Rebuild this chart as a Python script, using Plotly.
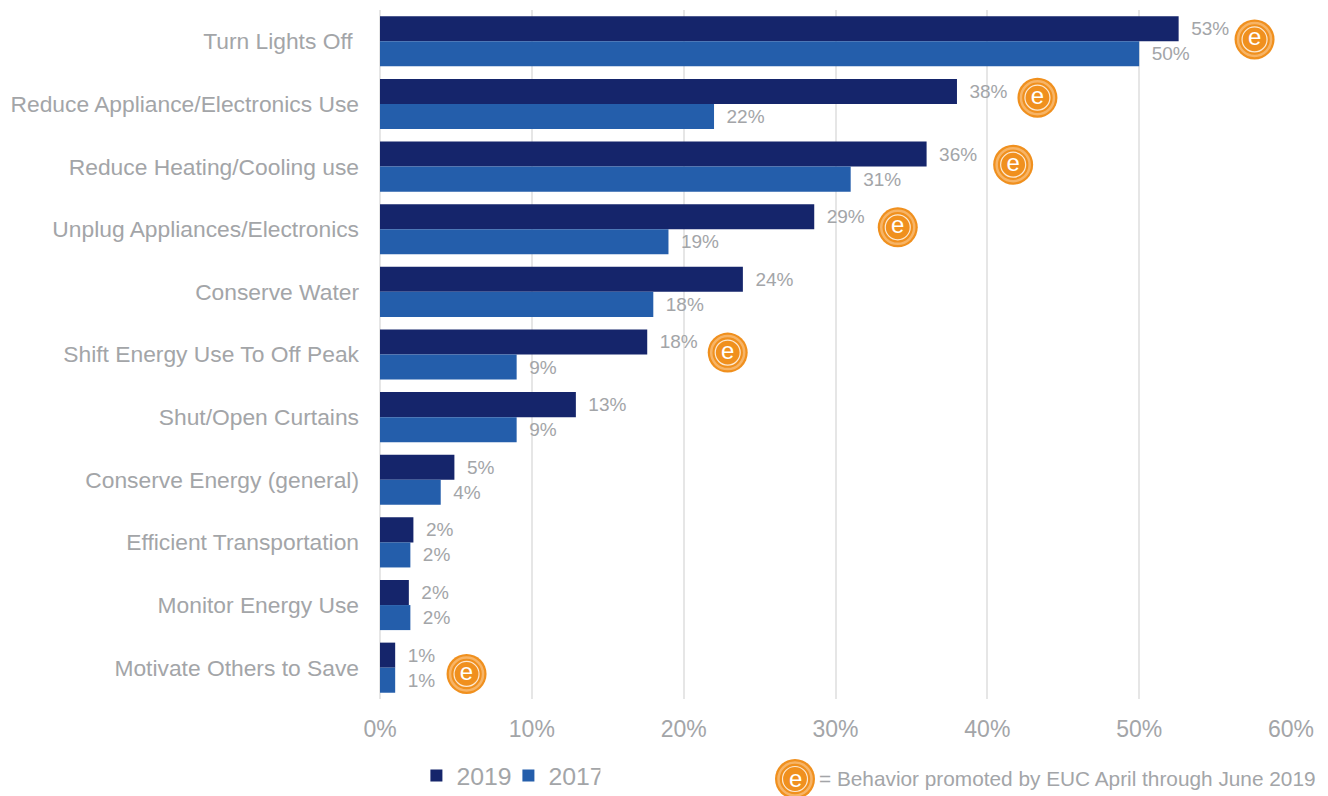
import plotly.graph_objects as go

categories = ["Turn Lights Off ", "Reduce Appliance/Electronics Use", "Reduce Heating/Cooling use",
              "Unplug Appliances/Electronics", "Conserve Water", "Shift Energy Use To Off Peak",
              "Shut/Open Curtains", "Conserve Energy (general)", "Efficient Transportation",
              "Monitor Energy Use", "Motivate Others to Save"]
values_2019 = [52.6, 38.0, 36.0, 28.6, 23.9, 17.6, 12.9, 4.9, 2.2, 1.9, 1.0]
values_2017 = [50.0, 22.0, 31.0, 19.0, 18.0, 9.0, 9.0, 4.0, 2.0, 2.0, 1.0]
labels_2019 = ["53%", "38%", "36%", "29%", "24%", "18%", "13%", "5%", "2%", "2%", "1%"]
labels_2017 = ["50%", "22%", "31%", "19%", "18%", "9%", "9%", "4%", "2%", "2%", "1%"]
badge_x = [57.6, 43.3, 41.7, 34.1, 22.9, 5.7]
badge_y = [-0.03, 0.9, 1.97, 2.97, 4.97, 10.1]
x_ticks = [0, 10, 20, 30, 40, 50, 60]
x_tick_labels = ["0%", "10%", "20%", "30%", "40%", "50%", "60%"]
note = "= Behavior promoted by EUC April through June 2019"

GREY = "#a3a5a8"
ORANGE = "#f0901e"
FONT = "Liberation Sans"
positions = list(range(len(categories)))

fig = go.Figure()
for name, vals, labs, col in [("2019", values_2019, labels_2019, "#15256b"),
                              ("2017", values_2017, labels_2017, "#245eab")]:
    fig.add_trace(go.Bar(y=positions, x=vals, name=name, orientation="h", marker_color=col,
                         marker_line_width=0, text=labs, texttemplate="\u2002%{text}",
                         textposition="outside", cliponaxis=False,
                         textfont=dict(color=GREY, size=19, family=FONT)))

fig.add_trace(go.Scatter(x=badge_x, y=badge_y, mode="markers", showlegend=False, cliponaxis=False,
                         hoverinfo="skip", marker=dict(size=40, color=ORANGE, line=dict(width=0))))
fig.add_trace(go.Scatter(x=badge_x, y=badge_y, mode="markers", showlegend=False, cliponaxis=False,
                         hoverinfo="skip",
                         marker=dict(size=33, color="rgba(0,0,0,0)",
                                     line=dict(width=2.5, color="rgba(255,225,190,0.45)"))))
fig.add_trace(go.Scatter(x=badge_x, y=badge_y, mode="markers+text", showlegend=False, cliponaxis=False,
                         hoverinfo="skip", text=["e"] * len(badge_x), textposition="middle center",
                         textfont=dict(color="white", size=24, family=FONT),
                         marker=dict(size=25, color="rgba(0,0,0,0)",
                                     line=dict(width=1.2, color="rgba(255,255,255,0.8)"))))

# Key badge below the plot, in paper coordinates
KEY_X = (795 - 380) / 911
KEY_Y = -(779 - 699) / 689
for d, fill, line_col, lw in [(40, ORANGE, ORANGE, 0),
                              (33, "rgba(0,0,0,0)", "rgba(255,225,190,0.45)", 2.5),
                              (25, "rgba(0,0,0,0)", "rgba(255,255,255,0.8)", 1.2)]:
    fig.add_shape(type="circle", xref="paper", yref="paper", xsizemode="pixel", ysizemode="pixel",
                  xanchor=KEY_X, yanchor=KEY_Y, x0=-d / 2, x1=d / 2, y0=-d / 2, y1=d / 2,
                  fillcolor=fill, line=dict(color=line_col, width=lw), layer="above")
fig.add_annotation(x=KEY_X, y=KEY_Y, xref="paper", yref="paper", text="e", showarrow=False,
                   xanchor="center", yanchor="middle", font=dict(color="white", size=24, family=FONT))
fig.add_annotation(x=KEY_X, y=KEY_Y, xref="paper", yref="paper", text=note, showarrow=False,
                   xanchor="left", yanchor="middle", xshift=22, font=dict(color=GREY, size=20.8, family=FONT))

fig.update_layout(
    width=1320, height=788, autosize=False, paper_bgcolor="white", plot_bgcolor="white",
    margin=dict(l=372, r=37, t=2, b=97), barmode="group", bargap=0.2, bargroupgap=0,
    font=dict(family=FONT, color=GREY, size=23),
    legend=dict(orientation="h", xref="container", yref="container", x=0.3094, xanchor="left",
                y=0.0254, yanchor="middle", font=dict(size=24.8, color=GREY), traceorder="normal",
                entrywidth=47, entrywidthmode="pixels"),
    xaxis=dict(range=[0, 60], tickvals=x_ticks, ticktext=x_tick_labels, showgrid=True, automargin=False,
               gridcolor="#e6e6e6", gridwidth=2, zeroline=True, zerolinecolor="#e6e6e6",
               zerolinewidth=2, showline=False, ticks="",
               tickfont=dict(size=23, color=GREY), ticklabelstandoff=14),
    yaxis=dict(range=[10.5, -0.5], tickmode="array", tickvals=positions, ticktext=categories,
               showgrid=False, zeroline=False, showline=False, ticks="", automargin=False,
               tickfont=dict(size=22.8, color=GREY), ticklabelstandoff=20),
)
fig.write_html("out.html")
